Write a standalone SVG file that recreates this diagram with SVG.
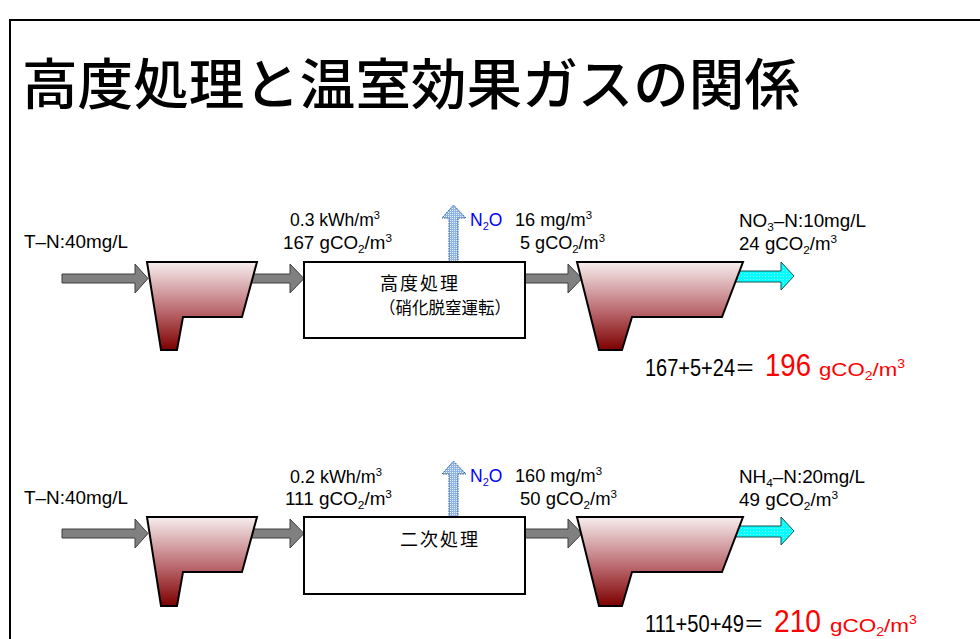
<svg xmlns="http://www.w3.org/2000/svg" width="980" height="639" viewBox="0 0 980 639">
  <defs>
    <style>
      .t { font-family: "Liberation Sans", "Noto Sans CJK JP", sans-serif; font-size: 17.5px; fill: #000; }
      .jp { font-family: "Noto Sans CJK JP", sans-serif; fill: #000; }
      .title { font-family: "Noto Sans CJK JP", sans-serif; font-size: 55px; font-weight: 500; fill: #000; }
      .n2o { fill: #0000ff; }
      .red { fill: #ff0000; }
      .tank { fill: url(#tankGrad); stroke: #000; stroke-width: 2; stroke-linejoin: miter; }
      .box { fill: #fff; stroke: #000; stroke-width: 2; }
      .garrow { fill: #808080; stroke: #3f3f3f; stroke-width: 1; }
      .carrow { fill: url(#cyanPat); stroke: #1f4f4f; stroke-width: 1; }
      .barrow { fill: url(#bluePat); stroke: #2f5a96; stroke-width: 1; stroke-dasharray: 1.5 1; }
      .frame { stroke: #000; stroke-width: 2; fill: none; }
    </style>
    <linearGradient id="tankGrad" x1="0" y1="0" x2="0" y2="1">
      <stop offset="0" stop-color="#f7eeef"/>
      <stop offset="0.55" stop-color="#bb6b70"/>
      <stop offset="1" stop-color="#7d0000"/>
    </linearGradient>
    <pattern id="cyanPat" width="3" height="3" patternUnits="userSpaceOnUse">
      <rect width="3" height="3" fill="#00ffff"/>
      <rect width="1" height="1" fill="#8ffcfc"/>
    </pattern>
    <pattern id="bluePat" width="2" height="2" patternUnits="userSpaceOnUse">
      <rect width="2" height="2" fill="#8eb3e6"/>
      <rect width="1" height="1" fill="#e8f0fb"/>
    </pattern>
  </defs>

  <!-- frame -->
  <path class="frame" d="M10,639 V20 H980"/>

  <!-- title -->
  <text class="title" x="22" y="104" textLength="778" lengthAdjust="spacingAndGlyphs">高度処理と温室効果ガスの関係</text>

  <!-- connectors -->
  <g id="connectors">
    <!-- row 1 -->
    <polygon class="garrow" points="62,274 135,274 135,264 148,278.5 135,293 135,283 62,283"/>
    <polygon class="garrow" points="250,274 290,274 290,264 304,278.5 290,293 290,283 250,283"/>
    <polygon class="garrow" points="525,274 568,274 568,264 582,278.5 568,293 568,283 525,283"/>
    <polygon class="carrow" points="736,271 781,271 781,262 794,276 781,290 781,282 736,282"/>
    <polygon class="barrow" points="449,262 449,218 442,218 453.5,205 466,218 458,218 458,262"/>
    <!-- row 2 -->
    <polygon class="garrow" points="62,529 135,529 135,519 148,533.5 135,548 135,538 62,538"/>
    <polygon class="garrow" points="250,529 290,529 290,519 304,533.5 290,548 290,538 250,538"/>
    <polygon class="garrow" points="525,529 568,529 568,519 582,533.5 568,548 568,538 525,538"/>
    <polygon class="carrow" points="736,526 781,526 781,517 794,531 781,545 781,537 736,537"/>
    <polygon class="barrow" points="449,517 449,474 442,474 453.5,461 466,474 458,474 458,517"/>
  </g>

  <!-- row 1 nodes -->
  <g id="tank1a">
    <polygon class="tank" points="147,262 257,262 242,317 183,317 177,350 161,350"/>
  </g>
  <g id="process1">
    <rect class="box" x="304" y="262" width="221" height="76"/>
    <text class="jp" x="380" y="290" font-size="18" textLength="78" lengthAdjust="spacing">高度処理</text>
    <text class="jp" x="379" y="314" font-size="17" textLength="132" lengthAdjust="spacingAndGlyphs">（硝化脱窒運転）</text>
  </g>
  <g id="tank1b">
    <polygon class="tank" points="577,262 743,262 722,317 632,317 622,350 599,350"/>
  </g>

  <!-- row 2 nodes -->
  <g id="tank2a">
    <polygon class="tank" points="147,517 257,517 242,572 183,572 177,606 161,606"/>
  </g>
  <g id="process2">
    <rect class="box" x="304" y="517" width="221" height="77"/>
    <text class="jp" x="400" y="546" font-size="18" textLength="78" lengthAdjust="spacing">二次処理</text>
  </g>
  <g id="tank2b">
    <polygon class="tank" points="577,517 743,517 722,572 632,572 622,606 599,606"/>
  </g>

  <!-- row 1 labels -->
  <g id="labels1">
    <text class="t" x="24" y="248" textLength="104" lengthAdjust="spacingAndGlyphs">T–N:40mg/L</text>
    <text class="t" x="290" y="226" textLength="90" lengthAdjust="spacingAndGlyphs">0.3 kWh/m<tspan dy="-7" font-size="11">3</tspan></text>
    <text class="t" x="283" y="249" textLength="109" lengthAdjust="spacingAndGlyphs">167 gCO<tspan dy="4" font-size="11">2</tspan><tspan dy="-4">/m</tspan><tspan dy="-7" font-size="11">3</tspan></text>
    <text class="t n2o" x="470" y="226">N<tspan dy="4" font-size="11">2</tspan><tspan dy="-4">O</tspan></text>
    <text class="t" x="515" y="226" textLength="77" lengthAdjust="spacingAndGlyphs">16 mg/m<tspan dy="-7" font-size="11">3</tspan></text>
    <text class="t" x="520" y="249" textLength="85" lengthAdjust="spacingAndGlyphs">5 gCO<tspan dy="4" font-size="11">2</tspan><tspan dy="-4">/m</tspan><tspan dy="-7" font-size="11">3</tspan></text>
    <text class="t" x="739" y="227" textLength="127" lengthAdjust="spacingAndGlyphs">NO<tspan dy="4" font-size="11">3</tspan><tspan dy="-4">–N:10mg/L</tspan></text>
    <text class="t" x="739" y="250" textLength="98" lengthAdjust="spacingAndGlyphs">24 gCO<tspan dy="4" font-size="11">2</tspan><tspan dy="-4">/m</tspan><tspan dy="-7" font-size="11">3</tspan></text>
    <text class="t" x="645" y="376" style="font-size:23px" textLength="110" lengthAdjust="spacingAndGlyphs">167+5+24＝</text>
    <text class="t red" x="765" y="376" style="font-size:32px" textLength="46" lengthAdjust="spacingAndGlyphs">196</text>
    <text class="t red" x="819" y="376" style="font-size:19px" textLength="86" lengthAdjust="spacingAndGlyphs">gCO<tspan dy="4" font-size="12">2</tspan><tspan dy="-4">/m</tspan><tspan dy="-8" font-size="12">3</tspan></text>
  </g>

  <!-- row 2 labels -->
  <g id="labels2">
    <text class="t" x="24" y="504" textLength="104" lengthAdjust="spacingAndGlyphs">T–N:40mg/L</text>
    <text class="t" x="290" y="483" textLength="92" lengthAdjust="spacingAndGlyphs">0.2 kWh/m<tspan dy="-7" font-size="11">3</tspan></text>
    <text class="t" x="285" y="505" textLength="107" lengthAdjust="spacingAndGlyphs">111 gCO<tspan dy="4" font-size="11">2</tspan><tspan dy="-4">/m</tspan><tspan dy="-7" font-size="11">3</tspan></text>
    <text class="t n2o" x="470" y="482">N<tspan dy="4" font-size="11">2</tspan><tspan dy="-4">O</tspan></text>
    <text class="t" x="515" y="482" textLength="87" lengthAdjust="spacingAndGlyphs">160 mg/m<tspan dy="-7" font-size="11">3</tspan></text>
    <text class="t" x="520" y="505" textLength="97" lengthAdjust="spacingAndGlyphs">50 gCO<tspan dy="4" font-size="11">2</tspan><tspan dy="-4">/m</tspan><tspan dy="-7" font-size="11">3</tspan></text>
    <text class="t" x="739" y="483" textLength="126" lengthAdjust="spacingAndGlyphs">NH<tspan dy="4" font-size="11">4</tspan><tspan dy="-4">–N:20mg/L</tspan></text>
    <text class="t" x="739" y="506" textLength="99" lengthAdjust="spacingAndGlyphs">49 gCO<tspan dy="4" font-size="11">2</tspan><tspan dy="-4">/m</tspan><tspan dy="-7" font-size="11">3</tspan></text>
    <text class="t" x="645" y="632" style="font-size:23px" textLength="119" lengthAdjust="spacingAndGlyphs">111+50+49＝</text>
    <text class="t red" x="774" y="632" style="font-size:32px" textLength="47" lengthAdjust="spacingAndGlyphs">210</text>
    <text class="t red" x="830" y="632" style="font-size:19px" textLength="87" lengthAdjust="spacingAndGlyphs">gCO<tspan dy="4" font-size="12">2</tspan><tspan dy="-4">/m</tspan><tspan dy="-8" font-size="12">3</tspan></text>
  </g>
</svg>
